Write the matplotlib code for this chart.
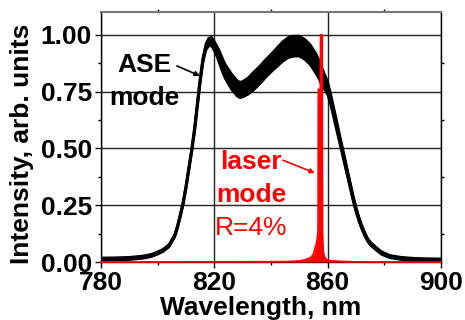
import matplotlib
matplotlib.use('Agg')
import matplotlib.pyplot as plt
import numpy as np

plt.rcParams['font.family'] = ['Liberation Sans', 'DejaVu Sans']

# ASE spectrum: wavelength, band centre and half width of the noisy band
wl_ase = [780, 785, 790, 795, 798, 800, 802, 804, 806, 807, 808, 809, 810, 811, 812,
          813, 814, 815, 816, 817, 818, 819, 820, 821, 822, 823, 824, 826, 828, 829,
          830, 832, 834, 836, 838, 840, 842, 844, 846, 848, 850, 852, 854, 856, 857,
          858, 859, 860, 861, 862, 863, 864, 865, 866, 867, 868, 869, 870, 871, 872,
          873, 874, 875, 877, 879, 882, 886, 890, 895, 900]
ase_mid = [0.013, 0.014, 0.016, 0.022, 0.030, 0.040, 0.052, 0.072, 0.115, 0.155, 0.205,
           0.26, 0.33, 0.41, 0.49, 0.58, 0.69, 0.80, 0.89, 0.945, 0.968, 0.970, 0.950,
           0.925, 0.895, 0.862, 0.835, 0.795, 0.765, 0.757, 0.760, 0.775, 0.798, 0.822,
           0.850, 0.875, 0.900, 0.925, 0.943, 0.950, 0.950, 0.935, 0.910, 0.870, 0.845,
           0.815, 0.790, 0.765, 0.72, 0.665, 0.61, 0.555, 0.50, 0.445, 0.39, 0.335,
           0.28, 0.232, 0.19, 0.155, 0.125, 0.10, 0.082, 0.060, 0.040, 0.024, 0.016,
           0.012, 0.010, 0.009]
ase_half = [0.006, 0.006, 0.006, 0.006, 0.006, 0.006, 0.006, 0.006, 0.006, 0.006, 0.006,
            0.006, 0.006, 0.006, 0.008, 0.008, 0.008, 0.010, 0.012, 0.015, 0.018, 0.020,
            0.022, 0.025, 0.030, 0.032, 0.033, 0.035, 0.035, 0.035, 0.035, 0.037, 0.040,
            0.040, 0.040, 0.040, 0.042, 0.044, 0.045, 0.045, 0.045, 0.045, 0.045, 0.045,
            0.042, 0.040, 0.035, 0.030, 0.028, 0.026, 0.025, 0.022, 0.020, 0.020, 0.018,
            0.016, 0.015, 0.013, 0.012, 0.010, 0.010, 0.008, 0.008, 0.007, 0.007, 0.006,
            0.006, 0.006, 0.006, 0.006]

# laser mode (R=4%)
wl_las = [780, 845, 850, 852, 854, 855, 855.5, 856, 856.4, 856.6, 856.7, 857.4, 857.5,
          858.1, 858.2, 858.4, 858.8, 859.5, 861, 865, 870, 900]
las = [0, 0.002, 0.005, 0.01, 0.02, 0.035, 0.06, 0.08, 0.11, 0.14, 0.76, 0.76, 1.0,
       1.0, 0.12, 0.05, 0.025, 0.012, 0.006, 0.003, 0.001, 0]

x_ticks = [780, 820, 860, 900]
y_ticks = [0.0, 0.25, 0.5, 0.75, 1.0]

wl_ase = np.array(wl_ase)
ase_mid = np.array(ase_mid)
ase_half = np.array(ase_half)

fig = plt.figure(figsize=(4.65, 3.2), dpi=100)
ax = fig.add_axes([0.2172, 0.181, 0.7312, 0.7815])

ax.fill_between(wl_ase, ase_mid - ase_half, ase_mid + ase_half, color='black', lw=0, zorder=2)
ax.plot(wl_ase, ase_mid - ase_half, color='black', lw=1.6, zorder=2)
ax.plot(wl_ase, ase_mid + ase_half, color='black', lw=1.6, zorder=2)
ax.plot(wl_ase, ase_mid, color='black', lw=2.4, zorder=2)

ax.fill_between(wl_las, 0, las, color='red', lw=0, zorder=3)
ax.plot(wl_las, las, color='red', lw=1.2, zorder=3, clip_on=False)

ax.set_xlim(780, 900)
ax.set_ylim(0, 1.1)
ax.set_xticks(x_ticks)
ax.set_xticks([800, 840, 880], minor=True)
ax.set_yticks(y_ticks)
ax.set_yticks(np.arange(0.125, 1.1, 0.25), minor=True)
ax.set_yticklabels(['%.2f' % v for v in y_ticks])
ax.grid(True, which='major', color='#222222', lw=1)
ax.set_axisbelow(True)

ax.tick_params(which='major', direction='out', length=4.5, width=1, pad=2,
               labelsize=19)
ax.tick_params(which='minor', direction='out', length=2.5, width=1,
               top=True, right=True)
for lab in ax.get_xticklabels() + ax.get_yticklabels():
    lab.set_fontweight('bold')

for s in ['left', 'bottom', 'right']:
    ax.spines[s].set_color('black')
    ax.spines[s].set_linewidth(1)
ax.spines['top'].set_color('#777777')
ax.spines['top'].set_linewidth(1.5)

ax.set_xlabel('Wavelength, nm', fontsize=19, fontweight='bold')
ax.set_ylabel('Intensity, arb. units', fontsize=19, fontweight='bold')
ax.xaxis.set_label_coords(0.47, -0.136)
ax.yaxis.set_label_coords(-0.197, 0.474)

# annotations
ax.text(795.3, 0.834, 'ASE', fontsize=19, fontweight='bold', ha='center', va='baseline')
ax.text(795.3, 0.691, 'mode', fontsize=19, fontweight='bold', ha='center', va='baseline')
ax.annotate('', xy=(814.9, 0.819), xytext=(806.8, 0.863),
            arrowprops=dict(arrowstyle='-|>', color='black', lw=1.2,
                            mutation_scale=7, shrinkA=0, shrinkB=0))

ax.text(832.9, 0.408, 'laser', fontsize=19, fontweight='bold', color='red',
        ha='center', va='baseline')
ax.text(832.9, 0.263, 'mode', fontsize=19, fontweight='bold', color='red',
        ha='center', va='baseline')
ax.text(832.9, 0.121, 'R=4%', fontsize=19, color='red', ha='center', va='baseline')
ax.annotate('', xy=(855.5, 0.392), xytext=(844.2, 0.448),
            arrowprops=dict(arrowstyle='-|>', color='red', lw=1.2,
                            mutation_scale=7, shrinkA=0, shrinkB=0))

fig.savefig('out.png', dpi=100)
